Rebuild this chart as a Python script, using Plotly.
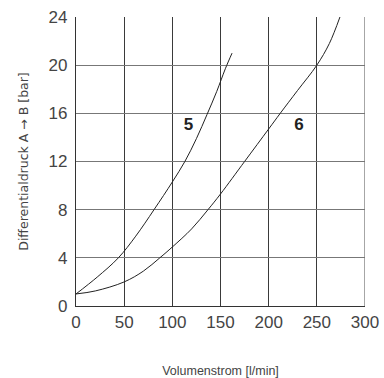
import plotly.graph_objects as go

# Curve 5
x5 = [0, 22, 44, 62, 81, 100, 113, 125, 136, 146, 155, 162]
y5 = [1, 2.4, 4.0, 5.8, 8.0, 10.3, 12.0, 13.9, 15.9, 17.8, 19.7, 21.0]
# Curve 6
x6 = [0, 20, 50, 70, 87, 100, 120, 137, 150, 175, 200, 212, 230, 250, 263, 274]
y6 = [1, 1.25, 2.0, 2.9, 4.0, 4.9, 6.4, 8.0, 9.3, 12.0, 14.7, 16.0, 17.9, 20.0, 21.8, 24.0]

label_text = ["5", "6"]
label_x = [116.7, 231.4]
label_y = [15.0, 15.0]

xticks = [0, 50, 100, 150, 200, 250, 300]
yticks = [0, 4, 8, 12, 16, 20, 24]

fig = go.Figure()
fig.add_trace(go.Scatter(x=x5, y=y5, mode="lines", line=dict(color="#222", width=1, shape="spline", smoothing=1), showlegend=False))
fig.add_trace(go.Scatter(x=x6, y=y6, mode="lines", line=dict(color="#222", width=1, shape="spline", smoothing=1), showlegend=False))
fig.add_trace(go.Scatter(x=label_x, y=label_y, mode="text", text=label_text,
                         textfont=dict(family="Liberation Sans", size=17, color="#222", weight="bold"),
                         showlegend=False))

fig.update_layout(
    width=384, height=378,
    margin=dict(l=76, r=19, t=17, b=72),
    paper_bgcolor="white", plot_bgcolor="white",
    font=dict(family="Liberation Sans", color="#333"),
    xaxis=dict(range=[0, 300], tickvals=xticks, showgrid=True, gridcolor="#3a3a3a", gridwidth=1.3,
               zeroline=False, showline=True, linecolor="#333", linewidth=1.3, automargin=False,
               tickfont=dict(size=17, color="#444"), ticks="",
               title=dict(text="Volumenstrom [l/min]", font=dict(size=12.5, color="#444"), standoff=36)),
    yaxis=dict(range=[0, 24], tickvals=yticks, showgrid=True, gridcolor="#777", gridwidth=1.3,
               zeroline=False, showline=True, linecolor="#333", linewidth=1.3, automargin=False,
               tickfont=dict(size=17, color="#444"), ticks="", ticklabelstandoff=4,
               title=dict(text="Differentialdruck A → B [bar]", font=dict(size=12.5, color="#444", family="DejaVu Sans"), standoff=17)),
)
fig.add_shape(type="line", xref="x", yref="paper", x0=300, x1=300, y0=0, y1=1,
              line=dict(color="#777", width=1.3))
fig.write_html("out.html", config={"displayModeBar": False},
               post_script="document.body.style.margin='0';document.body.style.overflow='hidden';")
